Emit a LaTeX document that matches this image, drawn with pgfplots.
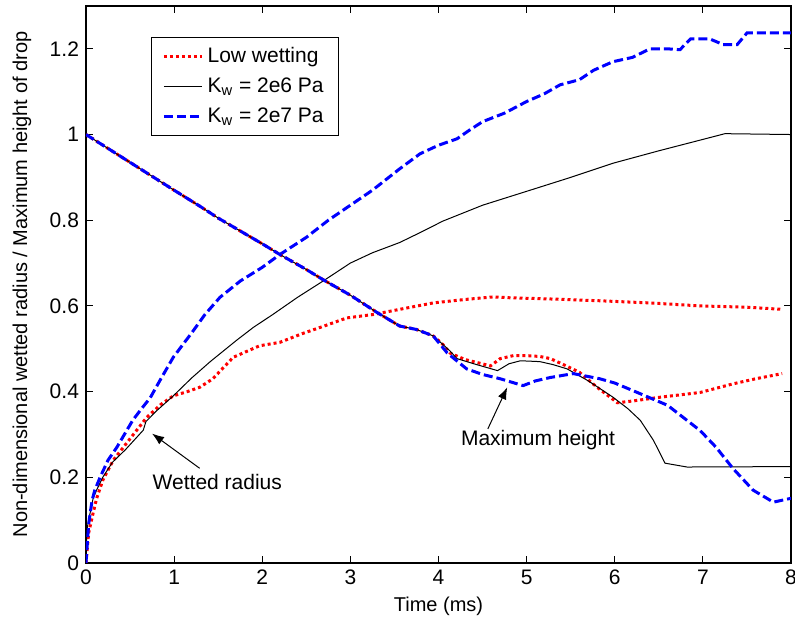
\documentclass[border=0pt]{standalone}
\usepackage{fontspec}
\setmainfont{Liberation Sans}
\usepackage{pgfplots}
\pgfplotsset{compat=1.18}
\usetikzlibrary{arrows.meta,calc}

\begin{document}
\begin{tikzpicture}
\begin{axis}[
  scale only axis, width=352.5pt, height=278.5pt,
  xmin=0, xmax=8, ymin=0, ymax=1.3,
  xtick={0,1,2,3,4,5,6,7,8},
  ytick={0,0.2,0.4,0.6,0.8,1,1.2},
  tick align=inside, major tick length=3.5pt,
  axis line style={line width=0.6pt},
  every tick/.style={black, line width=0.5pt},
  /pgf/number format/assume math mode=true,
  tick label style={font=\fontsize{10.5}{12}\selectfont},
  label style={font=\fontsize{10.5}{12}\selectfont},
  xlabel={Time (ms)},
  ylabel={Non-dimensional wetted radius / Maximum height of drop},
  every axis x label/.style={at={(axis description cs:0.5,-0.0772)},anchor=center},
  every axis y label/.style={at={(axis description cs:-0.0908,0.5)},anchor=center,rotate=90},
  legend cell align=left,
  legend image code/.code={\draw[#1] (0cm,0cm) -- (0.67cm,0cm);},
  legend style={at={(rel axis cs:0.092,0.944)}, anchor=north west,
    font=\fontsize{10.5}{12}\selectfont, draw=black, line width=0.6pt,
    inner xsep=5.5pt, inner ysep=3pt, row sep=2pt},
]
% wetted radius
\addplot[red, line width=1.5pt, dash pattern=on 1.5pt off 1.5pt] coordinates {
(0,0) (0.03,0.07) (0.08,0.116) (0.12,0.15) (0.19,0.193) (0.31,0.24) (0.5,0.29) (0.69,0.34)
(0.85,0.37) (0.99,0.39) (1.15,0.40) (1.29,0.41) (1.44,0.43) (1.67,0.48) (1.97,0.507)
(2.2,0.515) (2.45,0.535) (2.66,0.55) (2.96,0.572) (3.26,0.58) (3.56,0.592) (3.94,0.607)
(4.3,0.615) (4.62,0.621) (4.81,0.619) (5.3,0.616) (5.83,0.612) (6.4,0.607) (6.97,0.6)
(7.5,0.597) (7.9,0.592)};
\addlegendentry{Low wetting}
\addplot[black, line width=0.5pt] coordinates {
(0,0) (0.01,0.077) (0.03,0.10) (0.05,0.12) (0.08,0.15) (0.12,0.17) (0.19,0.2) (0.3,0.235)
(0.45,0.265) (0.65,0.31) (0.68,0.33) (0.8,0.355) (0.99,0.39) (1.2,0.432) (1.41,0.47)
(1.71,0.52) (1.9,0.55) (2.12,0.58) (2.4,0.62) (2.69,0.658) (3.0,0.70) (3.25,0.724)
(3.56,0.748) (3.8,0.772) (4.05,0.798) (4.5,0.835) (5.07,0.872) (5.5,0.9) (5.98,0.933)
(6.5,0.962) (7.12,0.995) (7.25,1.002) (8,1.0)};
\addlegendentry{K\textsubscript{w} = 2e6 Pa}
\addplot[blue, line width=1.5pt, dash pattern=on 4.5pt off 2pt] coordinates {
(0,0) (0.02,0.06) (0.03,0.09) (0.05,0.12) (0.07,0.147) (0.1,0.17) (0.16,0.2) (0.25,0.24)
(0.35,0.27) (0.45,0.305) (0.53,0.333) (0.63,0.36) (0.73,0.386) (0.85,0.43) (0.99,0.48)
(1.1,0.51) (1.21,0.54) (1.35,0.58) (1.52,0.62) (1.75,0.658) (2.0,0.69) (2.2,0.72)
(2.5,0.76) (2.75,0.80) (3.0,0.835) (3.25,0.87) (3.56,0.92) (3.79,0.955) (4.0,0.975)
(4.21,0.99) (4.35,1.01) (4.5,1.03) (4.75,1.05) (5.0,1.077) (5.2,1.095) (5.38,1.116)
(5.6,1.128) (5.76,1.15) (5.98,1.17) (6.2,1.18) (6.4,1.2) (6.6,1.2) (6.74,1.198)
(6.86,1.223) (7.08,1.223) (7.23,1.21) (7.39,1.21) (7.5,1.237) (8,1.237)};
\addlegendentry{K\textsubscript{w} = 2e7 Pa}
% maximum height
\addplot[red, line width=1.5pt, dash pattern=on 1.5pt off 1.5pt, forget plot] coordinates {
(0,1) (0.5,0.935) (1.0,0.87) (1.29,0.833) (1.5,0.805) (2.0,0.745) (2.2,0.72) (2.5,0.685)
(2.7,0.66) (3.0,0.625) (3.3,0.585) (3.56,0.553) (3.75,0.545) (3.94,0.53) (4.05,0.51)
(4.13,0.49) (4.3,0.475) (4.59,0.46) (4.7,0.477) (4.85,0.484) (5.0,0.484) (5.15,0.482)
(5.27,0.477) (5.45,0.46) (5.6,0.445) (5.8,0.41) (6.03,0.374) (6.2,0.378) (6.52,0.387)
(6.97,0.398) (7.34,0.418) (7.6,0.43) (7.9,0.442)};
\addplot[black, line width=0.5pt, forget plot] coordinates {
(0,1) (0.5,0.935) (1.0,0.87) (1.29,0.833) (1.5,0.805) (2.0,0.745) (2.2,0.72) (2.5,0.685)
(2.7,0.66) (3.0,0.625) (3.3,0.585) (3.56,0.553) (3.75,0.545) (3.94,0.53) (4.05,0.51)
(4.13,0.495) (4.21,0.477) (4.4,0.465) (4.67,0.449) (4.8,0.465) (4.93,0.472) (5.15,0.47)
(5.3,0.463) (5.46,0.453) (5.7,0.425) (5.98,0.387) (6.15,0.36) (6.29,0.333) (6.44,0.286)
(6.57,0.233) (6.82,0.224) (8,0.225)};
\addplot[blue, line width=1.5pt, dash pattern=on 4.5pt off 2pt, forget plot] coordinates {
(0,1) (0.5,0.935) (1.0,0.87) (1.29,0.833) (1.5,0.805) (2.0,0.745) (2.2,0.72) (2.5,0.685)
(2.7,0.66) (3.0,0.625) (3.3,0.585) (3.56,0.553) (3.75,0.545) (3.94,0.53) (4.1,0.49)
(4.32,0.453) (4.5,0.44) (4.7,0.43) (4.96,0.414) (5.1,0.425) (5.27,0.433) (5.53,0.442)
(5.83,0.43) (6.0,0.42) (6.21,0.402) (6.6,0.368) (6.97,0.309) (7.15,0.27) (7.34,0.221)
(7.57,0.17) (7.8,0.142) (8.0,0.151)};
% annotations
\draw[-{Latex[length=6pt,width=4.5pt]}, line width=0.5pt] (axis cs:1.29,0.221) -- (axis cs:0.75,0.302);
\node[font=\fontsize{10.5}{12}\selectfont] at (axis cs:1.49,0.19) {Wetted radius};
\draw[-{Latex[length=6pt,width=4.5pt]}, line width=0.5pt] (axis cs:4.56,0.313) -- (axis cs:4.78,0.41);
\node[font=\fontsize{10.5}{12}\selectfont] at (axis cs:5.13,0.286) {Maximum height};
\end{axis}
\pgfresetboundingbox
\path ($(current axis.south west)+(-43pt,-30.5pt)$) rectangle ($(current axis.north east)+(2pt,3pt)$);
\end{tikzpicture}
\end{document}
